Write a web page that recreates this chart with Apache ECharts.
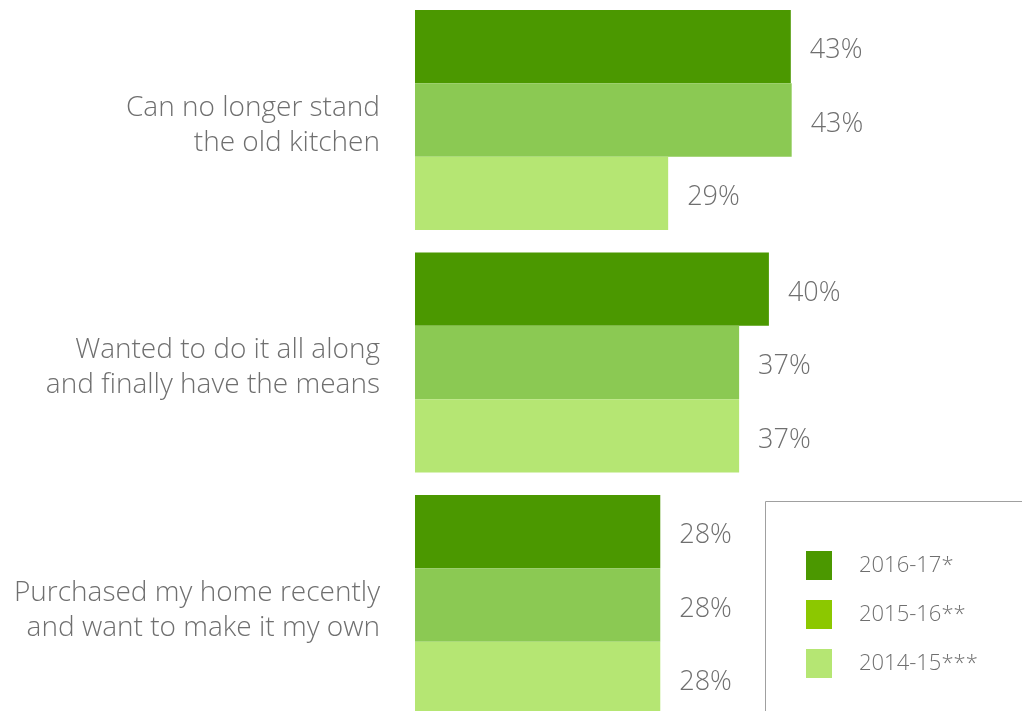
<!DOCTYPE html>
<html>
<head>
<meta charset="utf-8">
<script src="https://cdn.jsdelivr.net/npm/echarts@6/dist/echarts.min.js"></script>
<style>
html,body{margin:0;padding:0;background:#fff;}
#chart{width:1022px;height:711px;}
</style>
</head>
<body>
<div id="chart"></div>
<script>
const categories = [
  "Can no longer stand\nthe old kitchen",
  "Wanted to do it all along\nand finally have the means",
  "Purchased my home recently\nand want to make it my own"
];
const seriesNames = ["2016-17*", "2015-16**", "2014-15***"];
const values2016 = [42.9, 40.4, 28.0];
const values2015 = [43.0, 37.0, 28.0];
const values2014 = [28.9, 37.0, 28.0];
const barColors = ["#4b9800", "#8bc953", "#b5e673"];
const legendColors = ["#4b9800", "#8cc800", "#b5e673"];

const FONT = "'Open Sans', Lato, sans-serif";
const TEXT = "#6f6f6f";

const chart = echarts.init(document.getElementById('chart'));
const allValues = [values2016, values2015, values2014];

chart.setOption({
  animation: false,
  textStyle: {fontFamily: FONT},
  grid: {left: 415, width: 438, top: -1.25, height: 727.5, containLabel: false, outerBoundsMode: 'none'},
  xAxis: {
    type: 'value', min: 0, max: 50,
    show: false
  },
  yAxis: {
    type: 'category',
    data: categories,
    inverse: true,
    axisLine: {show: false},
    axisTick: {show: false},
    splitLine: {show: false},
    axisLabel: {
      margin: 35,
      color: TEXT,
      fontSize: 28,
      fontWeight: 300,
      fontFamily: FONT,
      align: 'right',
      formatter: v => '{sp| }\n' + v.split('\n').map(s => '{t|' + s + '}').join('\n'),
      rich: {
        sp: {lineHeight: 11, fontSize: 4},
        t: {lineHeight: 35, fontSize: 28, fontWeight: 300, fontFamily: FONT, color: TEXT}
      }
    }
  },
  legend: {
    orient: 'vertical',
    left: 806,
    top: 551,
    padding: 0,
    itemWidth: 26,
    itemHeight: 29,
    itemGap: 20,
    icon: 'rect',
    textStyle: {color: TEXT, fontSize: 22, fontWeight: 300, fontFamily: FONT, padding: [0, 0, 0, 22]},
    data: seriesNames.map((n, i) => ({name: n, itemStyle: {color: legendColors[i]}}))
  },
  graphic: [{
    type: 'rect',
    shape: {x: 765.5, y: 501.5, width: 400, height: 400},
    style: {fill: 'none', stroke: '#a0a0a0', lineWidth: 1},
    silent: true
  }],
  series: seriesNames.map((n, i) => ({
    name: n,
    type: 'bar',
    data: allValues[i],
    barGap: '0%',
    barCategoryGap: '9.28%',
    itemStyle: {color: barColors[i]},
    label: {
      show: true,
      position: 'right',
      distance: 19,
      offset: [0, 4],
      color: TEXT,
      fontSize: 27,
      fontWeight: 300,
      fontFamily: FONT,
      formatter: p => Math.round(p.value) + '%'
    }
  }))
});
</script>
</body>
</html>
